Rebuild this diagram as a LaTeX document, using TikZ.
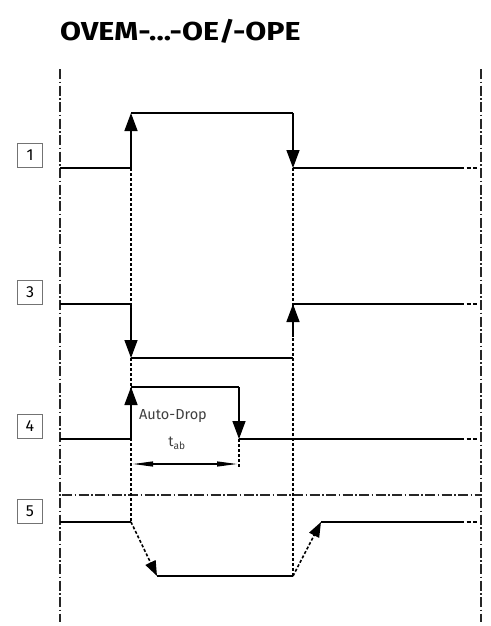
\documentclass[tikz,border=0pt]{standalone}
\usepackage{fontspec}
\setmainfont{Fira Sans}
\usetikzlibrary{arrows.meta}
\begin{document}
\begin{tikzpicture}[x=1pt,y=-1pt,
  sig/.style={line width=1.4pt,black},
  sigend/.style={line width=1.4pt,black,dash pattern=on 4pt off 2.5pt},
  ddline/.style={line width=1.1pt,black!85,dash pattern=on 10pt off 2.5pt on 1.5pt off 2.5pt},
  dotv/.style={line width=1.1pt,black,dash pattern=on 3pt off 2pt},
  bigtip/.style={-{Triangle[length=18pt,width=13pt]}},
  smalltip/.style={-{Triangle[length=15pt,width=11pt]}},
  lbl/.style={draw=black!55,line width=0.9pt,minimum width=25pt,minimum height=24pt,inner sep=0pt,font=\fontsize{16}{16}\selectfont},
  txt/.style={font=\fontsize{14.5}{14.5}\selectfont,text=black!75,inner sep=0pt}
]
\useasboundingbox (0,0) rectangle (490,626);
\fill[white] (0,0) rectangle (490,626);

% title
\node[anchor=west,inner sep=0pt,xscale=1.17,font=\fontsize{26}{26}\bfseries\selectfont] (title) at (60,31) {OVEM-...-OE/-OPE};

% frame lines
\coordinate (lt) at (60,69); \coordinate (lb) at (60,622);
\coordinate (rt) at (481,69); \coordinate (rb) at (481,622);
\draw[ddline] (lt) -- (lb);
\draw[ddline] (rt) -- (rb);
\coordinate (hl) at (62,495); \coordinate (hr) at (481,495);
\draw[ddline] (hl) -- (hr);

% labels
\node[lbl] (l1) at (30,155) {1};
\node[lbl] (l3) at (30,292) {3};
\node[lbl] (l4) at (30,426) {4};
\node[lbl] (l5) at (30,511) {5};

% dotted guides
\draw[dotv] (131,168) -- (131,522);
\draw[dotv] (293,168) -- (293,576);
\draw[dotv] (239,439) -- (239,467);

% signal 1
\draw[sig] (60,168) -- (131,168);
\draw[sig,bigtip] (131,168) -- (131,113);
\draw[sig] (131,113) -- (293,113);
\draw[sig,bigtip] (293,113) -- (293,168);
\draw[sig] (293,168) -- (460,168);
\draw[sigend] (460,168) -- (479,168);

% signal 3
\draw[sig] (60,304) -- (131,304);
\draw[sig,bigtip] (131,304) -- (131,358);
\draw[sig] (131,358) -- (293,358);
\draw[sig,bigtip] (293,337) -- (293,304);
\draw[sig] (293,304) -- (460,304);
\draw[sigend] (460,304) -- (479,304);

% signal 4
\draw[sig] (60,439) -- (131,439);
\draw[sig,bigtip] (131,439) -- (131,387);
\draw[sig] (131,387) -- (239,387);
\draw[sig,bigtip] (239,387) -- (239,439);
\draw[sig] (239,439) -- (460,439);
\draw[sigend] (460,439) -- (479,439);

\node[txt] (ad) at (173,416) {Auto-Drop};
\node[txt] (tab) at (177,443) {t\textsubscript{ab}};
\draw[line width=1.1pt,{Triangle[length=20pt,width=5pt]}-{Triangle[length=20pt,width=5pt]}] (133,464) -- (237,464);

% signal 5
\draw[sig] (60,522) -- (131,522);
\draw[dotv,line width=1.6pt,smalltip] (131,522) -- (157,576);
\draw[sig] (157,576) -- (293,576);
\draw[dotv,line width=1.6pt,smalltip] (293,576) -- (321,522);
\draw[sig] (321,522) -- (460,522);
\draw[sigend] (460,522) -- (479,522);
\end{tikzpicture}
\end{document}
